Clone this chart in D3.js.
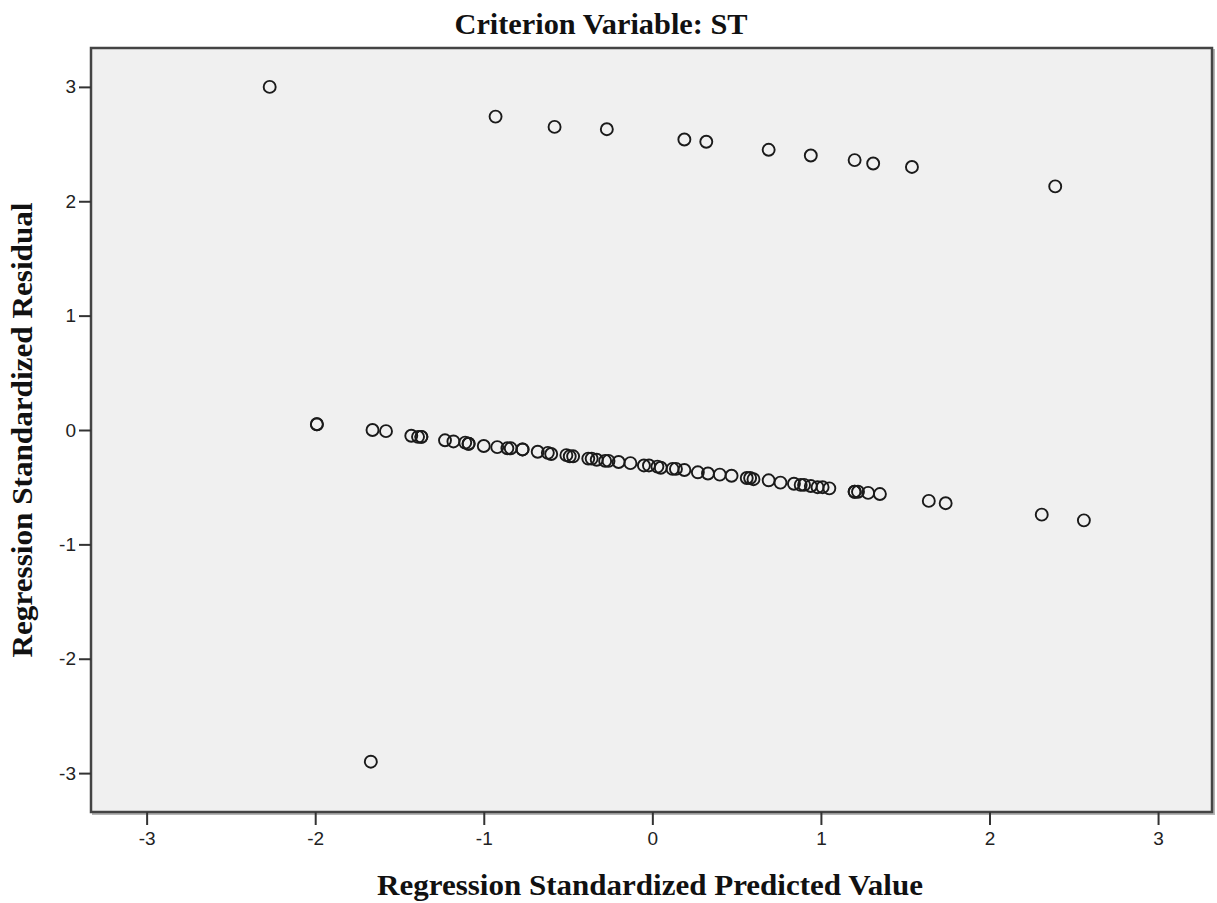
<!DOCTYPE html>
<html>
<head>
<meta charset="utf-8">
<script src="https://cdn.jsdelivr.net/npm/d3@7"></script>
<style>
  body { margin: 0; background: #fff; }
  .tick-label { font-family: "Liberation Sans", Arial, sans-serif; font-size: 19px; fill: #222; }
  .axis-title { font-family: "Liberation Serif", "Times New Roman", serif; font-weight: bold; font-size: 30px; fill: #111; }
</style>
</head>
<body>
<div id="chart"></div>
<script>
// Valeurs (résidus standardisés vs valeurs prédites)
const predicted = [
  -2.27, -0.93, -0.58, -0.27, 0.19, 0.32, 0.69, 0.94, 1.20, 1.31, 1.54, 2.39,
  -1.67,
  -1.99, -1.99, -1.66, -1.58, -1.43, -1.39, -1.37, -1.37, -1.23, -1.18, -1.11,
  -1.09, -1.09, -1.00, -0.92, -0.86, -0.84, -0.77, -0.77, -0.68, -0.62, -0.60,
  -0.51, -0.49, -0.47, -0.38, -0.36, -0.33, -0.28, -0.26, -0.20, -0.13, -0.05,
  -0.02, 0.03, 0.05, 0.12, 0.14, 0.19, 0.27, 0.33, 0.40, 0.47, 0.56, 0.58,
  0.60, 0.69, 0.76, 0.84, 0.88, 0.90, 0.94, 0.98, 1.01, 1.05, 1.20, 1.20,
  1.22, 1.28, 1.35, 1.64, 1.74, 2.31, 2.56
];
const residual = [
  3.00, 2.74, 2.65, 2.63, 2.54, 2.52, 2.45, 2.40, 2.36, 2.33, 2.30, 2.13,
  -2.90,
  0.05, 0.05, 0.00, -0.01, -0.05, -0.06, -0.06, -0.06, -0.09, -0.10, -0.11,
  -0.12, -0.12, -0.14, -0.15, -0.16, -0.16, -0.17, -0.17, -0.19, -0.20, -0.21,
  -0.22, -0.23, -0.23, -0.25, -0.25, -0.26, -0.27, -0.27, -0.28, -0.29, -0.31,
  -0.31, -0.32, -0.33, -0.34, -0.34, -0.35, -0.37, -0.38, -0.39, -0.40, -0.42, -0.42,
  -0.43, -0.44, -0.46, -0.47, -0.48, -0.48, -0.49, -0.50, -0.50, -0.51, -0.54, -0.54,
  -0.54, -0.55, -0.56, -0.62, -0.64, -0.74, -0.79
];
const xTicks = [-3, -2, -1, 0, 1, 2, 3];
const yTicks = [-3, -2, -1, 0, 1, 2, 3];

const chartTitle = "Criterion Variable: ST";
const xTitle = "Regression Standardized Predicted Value";
const yTitle = "Regression Standardized Residual";

const width = 1217;
const height = 903;
const margin = { top: 48, right: 5, bottom: 91, left: 91 };
const chartWidth = width - margin.left - margin.right;
const chartHeight = height - margin.top - margin.bottom;

const points = predicted.map((p, i) => ({ x: p, y: residual[i] }));

const svg = d3
  .select("#chart")
  .append("svg")
  .attr("width", width)
  .attr("height", height);

const g = svg
  .append("g")
  .attr("transform", `translate(${margin.left},${margin.top})`);

// Échelles
const x = d3.scaleLinear().domain([-3.33, 3.32]).range([0, chartWidth]);
const y = d3.scaleLinear().domain([-3.34, 3.34]).range([chartHeight, 0]);

// Fond + cadre (avec une petite ombre)
g.append("rect")
  .attr("x", 2)
  .attr("y", 2)
  .attr("width", chartWidth)
  .attr("height", chartHeight)
  .attr("fill", "none")
  .attr("stroke", "#b5b5b5")
  .attr("stroke-width", 2);

g.append("rect")
  .attr("width", chartWidth)
  .attr("height", chartHeight)
  .attr("fill", "#f0f0f0")
  .attr("stroke", "#444")
  .attr("stroke-width", 2.5);

// Libellés des graduations avec un tiret simple
const fmt = (d) => String(d);

// Axes
const xAxis = g
  .append("g")
  .attr("transform", `translate(0,${chartHeight})`)
  .call(d3.axisBottom(x).tickValues(xTicks).tickSize(13).tickPadding(7).tickFormat(fmt));

const yAxis = g
  .append("g")
  .call(d3.axisLeft(y).tickValues(yTicks).tickSize(12).tickPadding(3).tickFormat(fmt));

[xAxis, yAxis].forEach((ax) => {
  ax.attr("font-size", null).attr("font-family", null);
  ax.select(".domain").remove();
  ax.selectAll(".tick line").attr("stroke", "#333").attr("stroke-width", 2);
  ax.selectAll(".tick text").attr("class", "tick-label").attr("fill", null);
});

// Points
g.selectAll(".pt")
  .data(points)
  .enter()
  .append("circle")
  .attr("class", "pt")
  .attr("cx", (d) => x(d.x))
  .attr("cy", (d) => y(d.y))
  .attr("r", 6)
  .attr("fill", "none")
  .attr("stroke", "#1a1a1a")
  .attr("stroke-width", 1.9);

// Titres
svg.append("text")
  .attr("class", "axis-title")
  .attr("x", 601)
  .attr("y", 34)
  .attr("text-anchor", "middle")
  .attr("textLength", 293)
  .attr("lengthAdjust", "spacingAndGlyphs")
  .text(chartTitle);

svg.append("text")
  .attr("class", "axis-title")
  .attr("x", 650)
  .attr("y", 895)
  .attr("text-anchor", "middle")
  .attr("textLength", 546)
  .attr("lengthAdjust", "spacingAndGlyphs")
  .text(xTitle);

svg.append("text")
  .attr("class", "axis-title")
  .attr("transform", "translate(32,430) rotate(-90)")
  .attr("text-anchor", "middle")
  .attr("textLength", 455)
  .attr("lengthAdjust", "spacingAndGlyphs")
  .text(yTitle);
</script>
</body>
</html>
